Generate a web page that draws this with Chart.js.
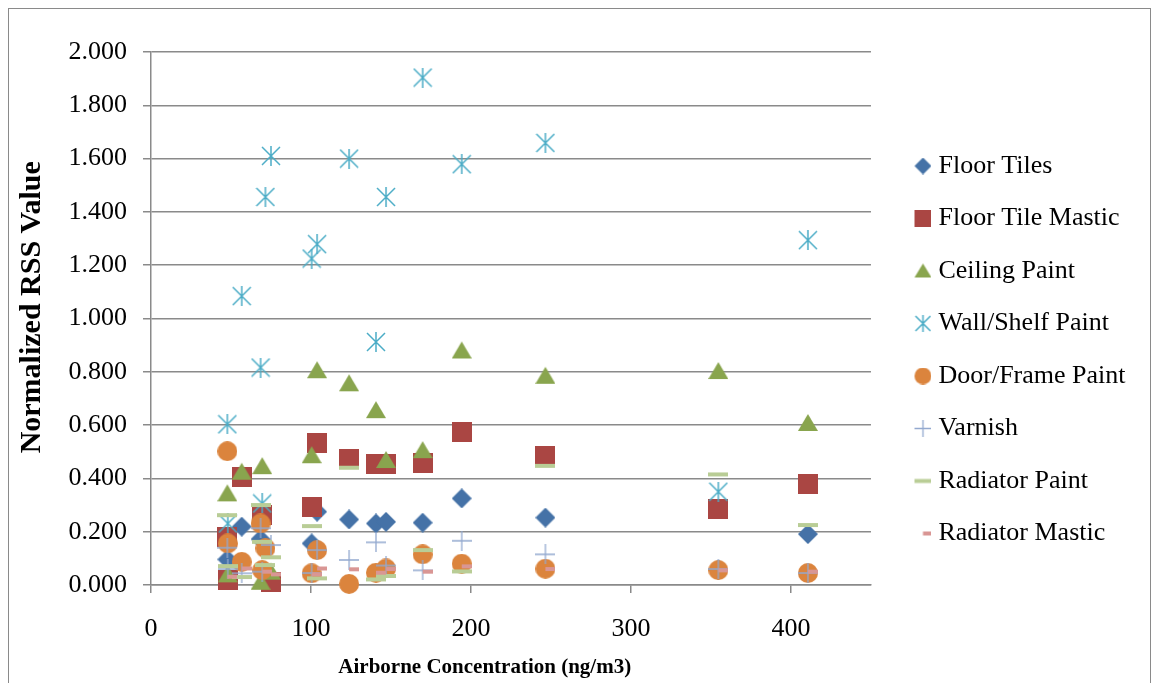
<!DOCTYPE html>
<html lang="en">
<head>
<meta charset="UTF-8">
<title>Normalized RSS vs Airborne Concentration</title>
<script src="https://cdn.jsdelivr.net/npm/chart.js"></script>
<style>
    body { margin: 0; background: #fff; overflow: hidden; }
    #frame { position: absolute; left: 8px; top: 8px; width: 1141px; height: 700px; border: 1px solid #8a8a8a; }
    #chart { position: absolute; left: 0; top: 0; }
</style>
</head>
<body>
<div id="frame"></div>
<canvas id="chart" width="1157" height="683"></canvas>

<script>
    // airborne concentration of each sample (ng/m3)
    const concentration = [47.7, 48.0, 56.7, 68.5, 69.5, 71.5, 75.0, 100.4, 103.8, 123.8, 140.6, 146.9, 169.8, 194.2, 246.5, 354.6, 410.6];

    // normalized RSS value per material, same order as concentration
    const floorTiles     = [0.096, null, 0.219, 0.172, null, null, null, 0.156, 0.275, 0.246, 0.231, 0.237, 0.234, 0.325, 0.253, 0.058, 0.191];
    const floorMastic    = [0.181, 0.019, 0.406, null, 0.262, null, 0.012, 0.294, 0.534, 0.471, 0.453, 0.455, 0.456, 0.575, 0.484, 0.285, 0.380];
    const ceilingPaint   = [0.344, 0.040, 0.425, 0.012, 0.446, null, 0.050, 0.487, 0.806, 0.757, 0.656, 0.469, 0.506, 0.880, 0.785, 0.803, 0.608];
    const wallShelfPaint = [0.603, 0.231, 1.084, 0.816, 0.306, 1.456, 1.610, 1.225, 1.279, 1.600, 0.912, 1.456, 1.904, 1.579, 1.659, 0.350, 1.294];
    const doorFramePaint = [0.502, 0.156, 0.087, 0.231, 0.056, 0.138, null, 0.044, 0.131, 0.004, 0.046, 0.062, 0.115, 0.080, 0.061, 0.056, 0.045];
    const varnish        = [0.140, 0.060, 0.044, 0.213, 0.050, null, 0.150, 0.045, 0.131, 0.094, 0.160, 0.073, 0.055, 0.166, 0.115, 0.060, 0.045];
    const radiatorPaint  = [0.262, 0.071, 0.030, 0.300, 0.162, 0.075, 0.104, 0.221, 0.025, 0.440, 0.021, 0.034, 0.131, 0.051, 0.447, 0.415, 0.225];
    const radiatorMastic = [0.031, null, 0.062, null, 0.050, null, 0.040, 0.040, 0.062, 0.059, 0.046, 0.060, 0.050, 0.070, 0.060, 0.055, 0.050];

    const seriesNames = ['Floor Tiles', 'Floor Tile Mastic', 'Ceiling Paint', 'Wall/Shelf Paint',
        'Door/Frame Paint', 'Varnish', 'Radiator Paint', 'Radiator Mastic'];
    const seriesValues = [floorTiles, floorMastic, ceilingPaint, wallShelfPaint,
        doorFramePaint, varnish, radiatorPaint, radiatorMastic];
    const shapes = ['diamond', 'square', 'triangle', 'star', 'circle', 'plus', 'dash', 'shortdash'];
    const colors = ['#4572A7', '#AA4643', '#89A54E', '#4BACC6', '#DB843D', '#93A9CF', '#B9CD96', '#D99694'];

    const xTicks = [0, 100, 200, 300, 400];

    // draws an excel-like marker on a small canvas (dx shifts it right inside the canvas)
    function marker(shape, color, s, dx) {
        dx = dx || 0;
        const c = document.createElement('canvas');
        c.width = s + 2 * dx;
        c.height = s;
        const g = c.getContext('2d');
        g.translate(dx * 2, 0);
        g.fillStyle = color;
        g.strokeStyle = color;
        const h = s / 2;
        g.beginPath();
        if (shape === 'diamond') {
            g.moveTo(h, 0); g.lineTo(s, h); g.lineTo(h, s); g.lineTo(0, h); g.closePath(); g.fill();
        } else if (shape === 'square') {
            g.fillRect(0, 0, s, s);
        } else if (shape === 'triangle') {
            g.moveTo(h, 1); g.lineTo(s, s - 2); g.lineTo(0, s - 2); g.closePath(); g.fill();
        } else if (shape === 'circle') {
            g.arc(h, h, h, 0, Math.PI * 2); g.fill();
        } else if (shape === 'star') {
            g.lineWidth = 1.5;
            g.moveTo(h, 0); g.lineTo(h, s);
            g.moveTo(1, 1); g.lineTo(s - 1, s - 1);
            g.moveTo(s - 1, 1); g.lineTo(1, s - 1);
            g.stroke();
        } else if (shape === 'plus') {
            g.lineWidth = 1.3;
            g.moveTo(h, 0); g.lineTo(h, s);
            g.moveTo(0, h); g.lineTo(s, h);
            g.stroke();
        } else if (shape === 'dash') {
            g.fillRect(0, h - 2, s, 4);
        } else if (shape === 'shortdash') {
            g.fillRect(h, h - 2, h, 4);
        }
        return c;
    }

    const legendMarks = shapes.map((sh, i) => marker(sh, colors[i], 17, 11.5));

    const datasets = seriesNames.map((name, i) => ({
        label: name,
        data: concentration.map((x, j) => ({x: x, y: seriesValues[i][j]})).filter(p => p.y !== null),
        pointStyle: marker(shapes[i], colors[i], 20),
        pointRadius: 10,
        pointHoverRadius: 10,
        backgroundColor: colors[i],
        borderColor: colors[i],
        showLine: false,
        clip: false,
        order: seriesNames.length - 1 - i
    }));

    const gridColor = '#8a8a8a';
    Chart.defaults.font.family = "'Liberation Serif', 'Times New Roman', serif";
    Chart.defaults.color = '#000';

    new Chart(document.getElementById('chart'), {
        type: 'scatter',
        data: { datasets: datasets },
        options: {
            responsive: false,
            animation: false,
            devicePixelRatio: 1,
            layout: { padding: { top: 52, left: 0, right: 21.5, bottom: 0 } },
            plugins: {
                tooltip: { enabled: false },
                legend: {
                    position: 'right',
                    fullSize: false,
                    title: { display: true, text: '', font: { size: 10 }, padding: { top: 50.5, bottom: 0 } },
                    labels: {
                        usePointStyle: true,
                        pointStyleWidth: 28,
                        boxHeight: 12,
                        padding: 26.5,
                        color: '#000',
                        font: { size: 26 },
                        sort: (a, b) => a.datasetIndex - b.datasetIndex,
                        generateLabels(chart) {
                            const items = Chart.defaults.plugins.legend.labels.generateLabels(chart);
                            items.forEach(it => { it.pointStyle = legendMarks[it.datasetIndex]; });
                            return items;
                        }
                    }
                }
            },
            scales: {
                x: {
                    type: 'linear',
                    min: 0,
                    max: 450,
                    afterFit: s => { s.height = 98; },
                    afterBuildTicks: s => { s.ticks = xTicks.map(v => ({value: v})); },
                    ticks: { font: { size: 26 }, padding: 21, color: '#000' },
                    grid: { drawOnChartArea: false, drawTicks: true, tickLength: 8, color: gridColor, lineWidth: 1.5 },
                    border: { display: true, color: gridColor, width: 1.5 },
                    title: {
                        display: true,
                        text: 'Airborne Concentration (ng/m3)          ',
                        font: { size: 21, weight: 'bold' },
                        color: '#000',
                        padding: { top: 0, bottom: 3 }
                    }
                },
                y: {
                    min: 0,
                    max: 2,
                    afterFit: s => { s.width = 151; },
                    ticks: { stepSize: 0.2, font: { size: 26 }, padding: 16, color: '#000',
                        callback: v => Number(v).toFixed(3) },
                    grid: { color: gridColor, lineWidth: 1.5, tickLength: 8 },
                    border: { display: true, color: gridColor, width: 1.5 },
                    title: {
                        display: true,
                        text: '   Normalized RSS Value',
                        font: { size: 30, weight: 'bold' },
                        color: '#000',
                        padding: { top: 14, bottom: 0 }
                    }
                }
            }
        }
    });
</script>
</body>
</html>
